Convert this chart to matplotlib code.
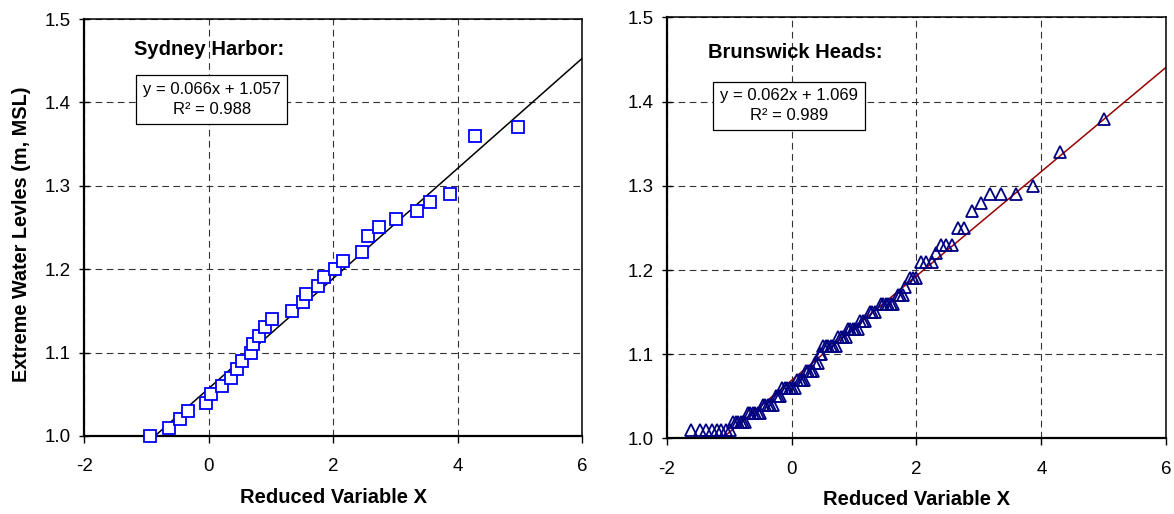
import numpy as np
import matplotlib
matplotlib.use("Agg")
import matplotlib.pyplot as plt

plt.rcParams["font.family"] = ["Liberation Sans", "DejaVu Sans"]
plt.rcParams["axes.unicode_minus"] = False

# Sydney Harbor: reduced variable / water level
sh_x = [-0.94, -0.64, -0.47, -0.34, -0.04, 0.04, 0.22, 0.36, 0.46, 0.54,
        0.67, 0.71, 0.81, 0.91, 1.01, 1.33, 1.51, 1.56, 1.76, 1.85,
        2.03, 2.16, 2.46, 2.55, 2.74, 3.00, 3.35, 3.56, 3.87, 4.27, 4.97]
sh_y = [1.00, 1.01, 1.02, 1.03, 1.04, 1.05, 1.06, 1.07, 1.08, 1.09,
        1.10, 1.11, 1.12, 1.13, 1.14, 1.15, 1.16, 1.17, 1.18, 1.19,
        1.20, 1.21, 1.22, 1.24, 1.25, 1.26, 1.27, 1.28, 1.29, 1.36, 1.37]
sh_fit = (0.066, 1.057)

# Brunswick Heads
bh_x = [-1.61, -1.47, -1.37, -1.28, -1.20, -1.13, -1.05, -0.98,
        -0.93, -0.89, -0.85, -0.81, -0.77, -0.74,
        -0.70, -0.66, -0.62, -0.58, -0.54, -0.50,
        -0.46, -0.42, -0.38, -0.34, -0.30,
        -0.25, -0.21, -0.18,
        -0.15, -0.11, -0.07, -0.03, 0.01, 0.05,
        0.09, 0.13, 0.17, 0.20,
        0.23, 0.27, 0.31, 0.35,
        0.38, 0.42,
        0.45, 0.48,
        0.51, 0.55, 0.59, 0.63, 0.67, 0.71,
        0.75, 0.79, 0.83, 0.87,
        0.90, 0.94, 0.98, 1.02, 1.06,
        1.10, 1.14, 1.18,
        1.25, 1.29, 1.33,
        1.43, 1.47, 1.51, 1.55, 1.59, 1.63,
        1.70, 1.74, 1.78,
        1.82,
        1.90, 1.95, 2.00,
        2.08, 2.16, 2.25,
        2.31,
        2.39, 2.47, 2.57,
        2.67, 2.76,
        2.89,
        3.03,
        3.18, 3.35, 3.59,
        3.87,
        4.30,
        5.00]
bh_y = [1.01] * 8 + [1.02] * 6 + [1.03] * 6 + [1.04] * 5 + [1.05] * 3 + \
       [1.06] * 6 + [1.07] * 4 + [1.08] * 4 + [1.09] * 2 + [1.10] * 2 + \
       [1.11] * 6 + [1.12] * 4 + [1.13] * 5 + [1.14] * 3 + [1.15] * 3 + \
       [1.16] * 6 + [1.17] * 3 + [1.18] * 1 + [1.19] * 3 + [1.21] * 3 + \
       [1.22] * 1 + [1.23] * 3 + [1.25] * 2 + [1.27] + [1.28] + \
       [1.29] * 3 + [1.30] + [1.34] + [1.38]
bh_fit = (0.062, 1.069)

x_ticks = [-2, 0, 2, 4, 6]
y_ticks = [1.0, 1.1, 1.2, 1.3, 1.4, 1.5]

fig = plt.figure(figsize=(11.74, 5.14), dpi=100)
ax1 = fig.add_axes([0.0718, 0.152, 0.4242, 0.811])
ax2 = fig.add_axes([0.5678, 0.147, 0.4256, 0.819])


def style_axes(ax):
    ax.set_xlim(-2, 6)
    ax.set_ylim(1.0, 1.5)
    ax.set_xticks(x_ticks)
    ax.set_xticklabels([str(t) for t in x_ticks])
    ax.set_yticks(y_ticks)
    ax.set_yticklabels([f"{t:.1f}" for t in y_ticks])
    ax.grid(True, color="#333333", linestyle=(0, (6, 4)), linewidth=0.8)
    ax.set_axisbelow(True)
    for s in ["left", "bottom"]:
        ax.spines[s].set_linewidth(1.6)
    for s in ["top", "right"]:
        ax.spines[s].set_linewidth(1.1)
    ax.tick_params(axis="x", direction="out", length=5, width=1, pad=11,
                   labelsize=13.5)
    ax.tick_params(axis="y", direction="inout", length=7, width=1, pad=6,
                   labelsize=13.5)
    ax.set_xlabel("Reduced Variable X", fontsize=14.5, fontweight="bold",
                  labelpad=9)


style_axes(ax1)
style_axes(ax2)

xx = np.array([-2, 6])

ax1.plot(xx, sh_fit[0] * xx + sh_fit[1], color="black", linewidth=1.1)
ax1.plot(sh_x, sh_y, linestyle="none", marker="s", markersize=8,
         markerfacecolor="white", markeredgecolor="#0000ff",
         markeredgewidth=1.3, clip_on=False, zorder=3)
ax1.text(0.10, 0.926, "Sydney Harbor:", transform=ax1.transAxes,
         fontsize=14.5, fontweight="bold", va="center", ha="left")
ax1.text(0.256, 0.807, "y = 0.066x + 1.057\nR² = 0.988",
         transform=ax1.transAxes, fontsize=12, ha="center", va="center",
         linespacing=1.4,
         bbox=dict(boxstyle="square,pad=0.4", facecolor="white",
                   edgecolor="black", linewidth=0.9))
ax1.set_ylabel("Extreme Water Levles (m, MSL)", fontsize=14.3,
               fontweight="bold")
ax1.yaxis.set_label_coords(-0.108, 0.483)

ax2.plot(xx, bh_fit[0] * xx + bh_fit[1], color="#990000", linewidth=1.1)
ax2.plot(bh_x, bh_y, linestyle="none", marker="^", markersize=8,
         markerfacecolor="none", markeredgecolor="#000080",
         markeredgewidth=1.3, clip_on=False, zorder=3)
ax2.text(0.083, 0.916, "Brunswick Heads:", transform=ax2.transAxes,
         fontsize=14.5, fontweight="bold", va="center", ha="left")
ax2.text(0.245, 0.79, "y = 0.062x + 1.069\nR² = 0.989",
         transform=ax2.transAxes, fontsize=12, ha="center", va="center",
         linespacing=1.4,
         bbox=dict(boxstyle="square,pad=0.4", facecolor="white",
                   edgecolor="black", linewidth=0.9))

fig.savefig("out.png", dpi=100)
